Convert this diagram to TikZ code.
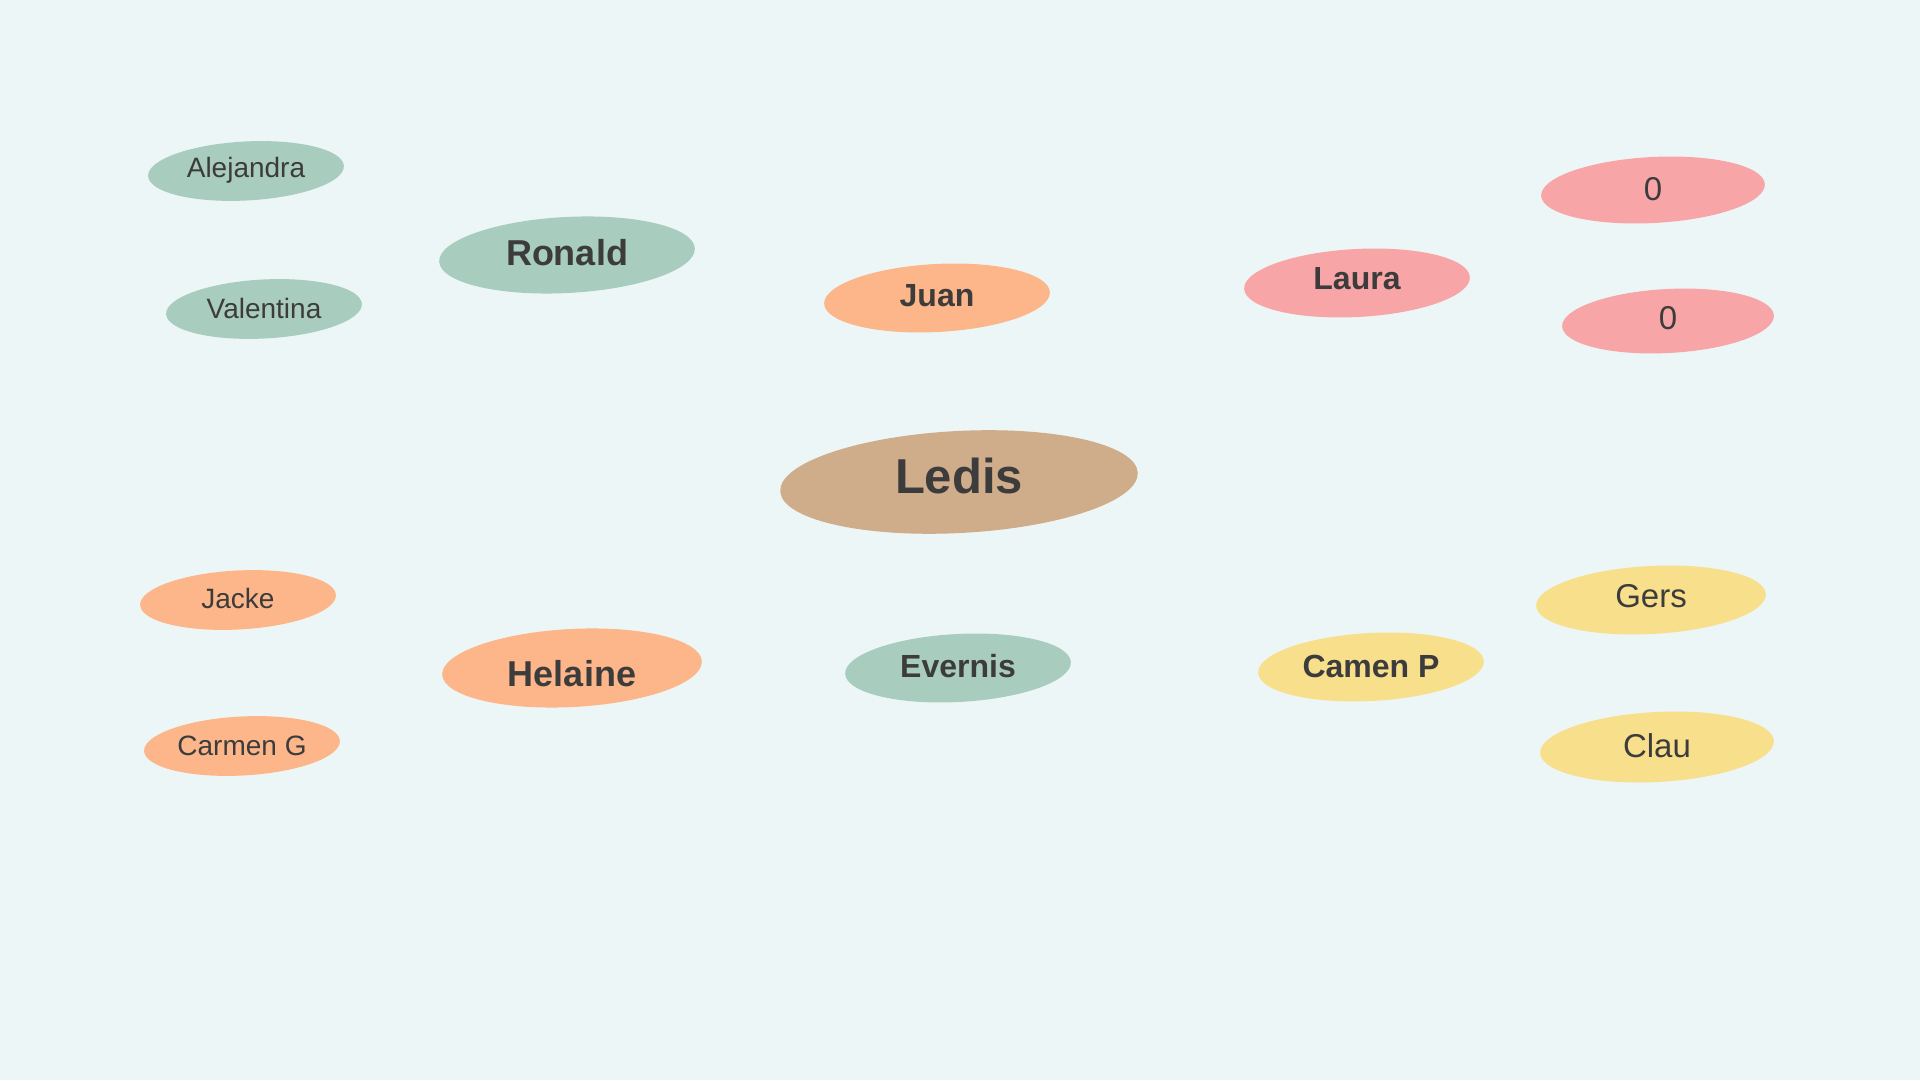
\documentclass[tikz,border=0pt]{standalone}
\usepackage{fontspec}
\setmainfont{Liberation Sans}
\usetikzlibrary{positioning,shapes.geometric}
\definecolor{bgc}{HTML}{ECF6F6}
\definecolor{sage}{HTML}{A8CCBD}
\definecolor{peach}{HTML}{FCB68A}
\definecolor{rose}{HTML}{F8A5A7}
\definecolor{sand}{HTML}{F8DF8C}
\definecolor{tan}{HTML}{CFAC8A}
\definecolor{ink}{HTML}{3C3C3C}
\newcommand\fhub{\fontsize{49}{58}\selectfont\bfseries}
\newcommand\fmid{\fontsize{36}{43}\selectfont\bfseries}
\newcommand\fname{\fontsize{32}{38}\selectfont\bfseries}
\newcommand\fleaf{\fontsize{28}{34}\selectfont}
\newcommand\fval{\fontsize{33}{40}\selectfont}
\begin{document}
\begin{tikzpicture}[x=1pt, y=1pt, lbl/.style={text=ink, inner sep=0pt}]
\fill[bgc] (0,0) rectangle (1920,1080);
\useasboundingbox (0,0) rectangle (1920,1080);
% ellipses tilted a little, text kept level
\foreach \n/\x/\y/\rx/\ry/\c/\f/\dy/\t in {
  alejandra/246/909/98/29.5/sage/\fleaf/1/Alejandra, valentina/264/771/98/29.5/sage/\fleaf/1/Valentina,
  ronald/567/825/128/38/sage/\fmid/2/Ronald, juan/937/782/113/34/peach/\fname/2/Juan,
  laura/1357/797/113/34/rose/\fname/4/Laura, zeroa/1653/890/112/33/rose/\fval/1/0, zerob/1668/759/106/32/rose/\fval/3/0,
  ledis/959/598/179/51/tan/\fhub/6/Ledis,
  jacke/238/480/98/29.5/peach/\fleaf/2/Jacke, carmeng/242/334/98/29.5/peach/\fleaf/0/Carmen G,
  helaine/572/412/130/39/peach/\fmid/-6/Helaine, evernis/958/412/113/34/sage/\fname/2/Evernis,
  camenp/1371/413/113/34/sand/\fname/1/Camen P, gers/1651/480/115/34/sand/\fval/4/Gers, clau/1657/333/117/35/sand/\fval/1/Clau}
{
  \fill[\c, rotate around={3:(\x,\y)}] (\x,\y) ellipse [x radius=\rx, y radius=\ry];
  \node[lbl, font=\f] (\n) at (\x,\y+\dy) {\t};
}
\end{tikzpicture}
\end{document}
